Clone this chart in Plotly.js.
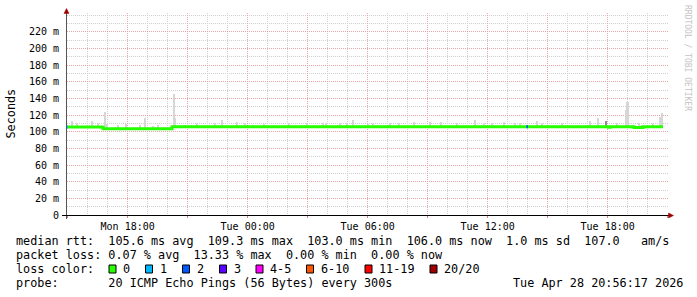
<!DOCTYPE html>
<html>
<head>
<meta charset="utf-8">
<script src="https://cdn.plot.ly/plotly-3.0.1.min.js"></script>
<style>
html,body{margin:0;padding:0;background:#fff;}
#chart{width:697px;height:297px;}
</style>
</head>
<body>
<div id="chart"></div>
<script>
// ---------- data ----------
const medianTimes = ['2026-04-27 14:58','2026-04-27 16:46','2026-04-27 20:13','2026-04-28 18:02','2026-04-28 18:07','2026-04-28 19:19','2026-04-28 19:46','2026-04-28 20:46'];
const medianVals  = [105.5, 103.6, 105.8, 105.2, 105.8, 105.1, 105.8, 105.8];

const smokeTimes = ['2026-04-27 15:12','2026-04-27 15:27','2026-04-27 16:13','2026-04-27 16:31','2026-04-27 16:52','2026-04-27 16:58','2026-04-27 17:30','2026-04-27 17:55','2026-04-27 18:36','2026-04-27 18:52','2026-04-27 19:15','2026-04-27 19:30','2026-04-27 20:18','2026-04-27 20:22','2026-04-27 20:50','2026-04-27 21:00','2026-04-27 21:10','2026-04-27 21:27','2026-04-27 22:21','2026-04-27 22:42','2026-04-27 23:28','2026-04-27 23:51',
  '2026-04-28 00:15','2026-04-28 00:49','2026-04-28 02:03','2026-04-28 02:42','2026-04-28 02:57','2026-04-28 03:45','2026-04-28 03:55','2026-04-28 04:37','2026-04-28 04:58','2026-04-28 05:16','2026-04-28 06:00','2026-04-28 06:15','2026-04-28 06:30','2026-04-28 07:07','2026-04-28 07:34','2026-04-28 08:19','2026-04-28 09:06','2026-04-28 09:39','2026-04-28 10:27','2026-04-28 11:21','2026-04-28 11:48','2026-04-28 12:12','2026-04-28 12:48','2026-04-28 13:22','2026-04-28 13:37','2026-04-28 14:28','2026-04-28 14:42','2026-04-28 15:42','2026-04-28 17:07','2026-04-28 17:31','2026-04-28 18:28','2026-04-28 18:55','2026-04-28 18:59','2026-04-28 19:34','2026-04-28 20:15','2026-04-28 20:38','2026-04-28 20:42'];
const smokeTop = [113,110,113,110.5,124,109,107.5,109,108,117,106.8,107.5,145,116.5,108,108,108,110,110,114,112,110,
  108,109,110,108,111,111,111,110,111,114,109,110,108,111,110,112,112,112,110,114,111,110,112,110,110,113,110,111,113,116,110,126,136,111,110,118,123];
const darkSmokeTimes = ['2026-04-28 17:55'];
const darkSmokeTop = [112.5];

const lossSegTimes = [['2026-04-27 14:58','2026-04-27 15:01'], ['2026-04-28 13:56','2026-04-28 14:01']];
const lossSegVals  = [105.5, 105.8];
const lossSegColorIdx = [1, 2];

const lossLabels = ['0','1','2','3','4-5','6-10','11-19','20/20'];
const lossColors = ['#26ff00','#00b8ff','#0059ff','#5e00ff','#ff00ff','#ff5500','#ff0000','#a10000'];

const xTickVals = ['2026-04-27 15:00','2026-04-27 18:00','2026-04-27 21:00','2026-04-28 00:00','2026-04-28 03:00','2026-04-28 06:00','2026-04-28 09:00','2026-04-28 12:00','2026-04-28 15:00','2026-04-28 18:00','2026-04-28 21:00'];
const xTickText = ['','Mon 18:00','','Tue 00:00','','Tue 06:00','','Tue 12:00','','Tue 18:00',''];
const yTickVals = [0,20,40,60,80,100,120,140,160,180,200,220];
const yTickText = ['0','20 m','40 m','60 m','80 m','100 m','120 m','140 m','160 m','180 m','200 m','220 m'];

const statLine1 = 'median rtt:  105.6 ms avg  109.3 ms max  103.0 ms min  106.0 ms now  1.0 ms sd  107.0   am/s';
const statLine2 = 'packet loss: 0.07 % avg  13.33 % max  0.00 % min  0.00 % now';
const lossTitle = 'loss color:';
const probeLine = 'probe:       20 ICMP Echo Pings (56 Bytes) every 300s';
const dateText  = 'Tue Apr 28 20:56:17 2026';
const yTitle = 'Seconds';
const watermark = 'RRDTOOL / TOBI OETIKER';

// ---------- layout helpers ----------
const L = 67, R = 668, T = 13, B = 215, W = 697, H = 297;
const px = x => (x - L) / (R - L);
const py = y => (B - y) / (B - T);
const nb = s => s.replace(/ /g, '\u00a0');
const FONT = 'DejaVu Sans Mono, monospace';

const smokeBase = 104;
const traces = [
  {type:'bar', x: smokeTimes, y: smokeTop.map(v => v - smokeBase), base: smokeBase,
   width: 7*60*1000, marker:{color:'#d6d6d6', line:{width:0}}, hoverinfo:'skip'},
  {type:'bar', x: darkSmokeTimes, y: darkSmokeTop.map(v => v - smokeBase), base: smokeBase,
   width: 7*60*1000, marker:{color:'#8c8c8c', line:{width:0}}, hoverinfo:'skip'},
  {type:'scatter', mode:'lines', x: medianTimes, y: medianVals,
   line:{color: lossColors[0], width: 3, shape:'hv'}, hoverinfo:'skip'}
];
lossSegTimes.forEach((t, i) => {
  traces.push({type:'scatter', mode:'lines', x: t, y: [lossSegVals[i], lossSegVals[i]],
    line:{color: lossColors[lossSegColorIdx[i]], width: 3}, hoverinfo:'skip'});
});

const annotations = [];
const lineAnn = (text, x, y, anchor) => annotations.push({
  text: nb(text), xref:'paper', yref:'paper', x: px(x), y: py(y),
  xanchor: anchor || 'left', yanchor:'middle', showarrow:false,
  font:{family: FONT, size: 11.8, color:'#000'}, borderpad:0
});
lineAnn(statLine1, 15, 241);
lineAnn(statLine2, 15, 255);
lineAnn(lossTitle, 15, 269);
lineAnn(probeLine, 15, 282.5);
lineAnn(dateText, 512, 282.5);

const boxX = [109, 145.5, 182.5, 219.5, 256, 306.5, 365, 430];
const shapes = [];
lossLabels.forEach((lab, i) => {
  shapes.push({type:'rect', xref:'paper', yref:'paper', x0: px(boxX[i]), x1: px(boxX[i]+7), y0: py(273), y1: py(265),
    fillcolor: lossColors[i], line:{color:'#000', width:1}, layer:'above'});
  lineAnn(lab, boxX[i] + 13, 269);
});

annotations.push({text: yTitle, xref:'paper', yref:'paper', x: px(10.5), y: py(114), textangle:-90,
  xanchor:'center', yanchor:'middle', showarrow:false, font:{family: FONT, size: 11.8, color:'#000'}});
annotations.push({text: nb(watermark), xref:'paper', yref:'paper', x: px(687), y: py(58), textangle:90,
  xanchor:'center', yanchor:'middle', showarrow:false, font:{family: FONT, size: 8, color:'#c4c4c4'}});

// axis lines and arrows
shapes.push({type:'line', xref:'paper', yref:'paper', x0: px(66.5), x1: px(66.5), y0: py(219), y1: py(12),
  line:{color:'#555', width:1}, layer:'above'});
shapes.push({type:'line', xref:'paper', yref:'paper', x0: px(62), x1: px(670), y0: py(215.5), y1: py(215.5),
  line:{color:'#000', width:1}, layer:'above'});
shapes.push({type:'path', xref:'paper', yref:'paper',
  path:`M${px(64)},${py(13.5)} L${px(69)},${py(13.5)} L${px(66.5)},${py(8.5)} Z`,
  fillcolor:'#a00000', line:{color:'#a00000', width:0.5}, layer:'above'});
shapes.push({type:'path', xref:'paper', yref:'paper',
  path:`M${px(668.5)},${py(213)} L${px(668.5)},${py(218)} L${px(673.5)},${py(215.5)} Z`,
  fillcolor:'#a00000', line:{color:'#a00000', width:0.5}, layer:'above'});

const layout = {
  width: W, height: H,
  margin:{l: L, r: W - R, t: T, b: H - B, pad: 0},
  paper_bgcolor:'#fff', plot_bgcolor:'#fff',
  showlegend:false, barmode:'overlay', bargap:0,
  font:{family: FONT, size: 10, color:'#000'},
  xaxis:{type:'date', range:['2026-04-27 14:58','2026-04-28 21:01'],
    tickmode:'array', tickvals: xTickVals, ticktext: xTickText,
    showgrid:true, gridcolor:'rgb(232,165,165)', griddash:'1px,1px', gridwidth:1,
    ticks:'outside', ticklen:2, tickcolor:'rgb(215,130,130)',
    tickfont:{family: FONT, size: 10, color:'#000'},
    minor:{tickmode:'linear', tick0:'2026-04-27 15:00', dtick: 3600000, showgrid:true,
      gridcolor:'rgb(208,208,208)', griddash:'1px,1px', gridwidth:1, ticks:''},
    zeroline:false, showline:false, fixedrange:true},
  yaxis:{range:[0, 242.5], tickmode:'array', tickvals: yTickVals, ticktext: yTickText,
    showgrid:true, gridcolor:'rgb(232,165,165)', griddash:'1px,1px', gridwidth:1,
    ticks:'outside', ticklen:5, tickcolor:'rgba(0,0,0,0)',
    tickfont:{family: FONT, size: 10, color:'#000'},
    minor:{tickmode:'linear', tick0:0, dtick:10, showgrid:true,
      gridcolor:'rgb(208,208,208)', griddash:'1px,1px', gridwidth:1, ticks:''},
    zeroline:false, showline:false, fixedrange:true},
  shapes: shapes,
  annotations: annotations
};

Plotly.newPlot('chart', traces, layout, {staticPlot:true, displayModeBar:false});
</script>
</body>
</html>
